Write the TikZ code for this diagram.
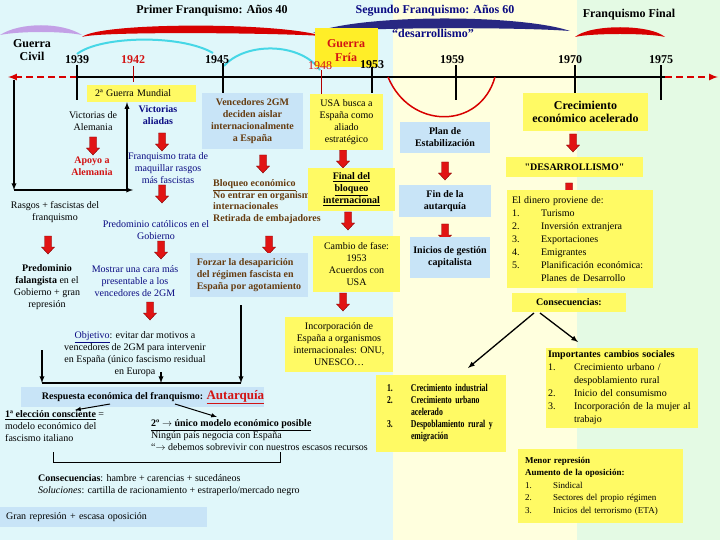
\documentclass[tikz,border=0pt]{standalone}
\usepackage{fontspec}
\setmainfont{Liberation Serif}
\newfontfamily\condserif[FakeStretch=0.74]{Liberation Serif}
\usepackage{tikz}

\definecolor{bgcyan}{RGB}{224,247,250}
\definecolor{bgyellow}{RGB}{255,255,222}
\definecolor{bggreen}{RGB}{228,250,228}
\definecolor{boxyellow}{RGB}{255,250,100}
\definecolor{boxblue}{RGB}{200,228,247}
\definecolor{fryellow}{RGB}{255,238,40}
\definecolor{brownT}{RGB}{102,60,16}
\definecolor{navyT}{RGB}{10,10,130}
\definecolor{redT}{RGB}{210,20,20}
\definecolor{arrowred}{RGB}{225,20,20}
\definecolor{lilac}{RGB}{195,160,230}
\definecolor{arcred}{RGB}{215,0,0}
\definecolor{arcblue}{RGB}{40,40,130}
\definecolor{cyanline}{RGB}{70,215,230}

\tikzset{
  ybox/.style={fill=boxyellow},
  bbox/.style={fill=boxblue},
  title/.style={font=\fontsize{12}{13.5}\selectfont\bfseries},
  bfnode/.style={font=\fontsize{10}{12}\selectfont\bfseries},
  brownbold/.style={bfnode, text=brownT},
  blkarrow/.style={-latex, line width=1.3pt},
  downarrow/.pic={\filldraw[fill=arrowred, draw=red!50!black, line width=0.4pt] (-3.5,-9) -- (3.5,-9) -- (3.5,2) -- (6.5,2) -- (0,9) -- (-6.5,2) -- (-3.5,2) -- cycle;}
}

\begin{document}
\begin{tikzpicture}[x=1pt, y=-1pt, every node/.style={font=\fontsize{10}{12}\selectfont, inner sep=0pt}]
\useasboundingbox (0,0) rectangle (720,540);
\fill[bgcyan] (0,0) rectangle (393,540);
\fill[bgyellow] (393,0) rectangle (577,540);
\fill[bggreen] (577,0) rectangle (720,540);

\fill[lilac] (0,35) .. controls (20,22) and (62,22) .. (82,35) .. controls (62,31) and (20,31) .. cycle;
\fill[arcred] (82,37) .. controls (100,22) and (280,22) .. (322,36) .. controls (280,33) and (100,31) .. cycle;
\fill[arcblue] (313,33) .. controls (360,14) and (520,14) .. (570,31) .. controls (520,27) and (360,27) .. cycle;
\fill[arcred] (575,37) .. controls (590,24) and (650,24) .. (665,37) .. controls (650,33) and (590,33) .. cycle;
\draw[cyanline, line width=2pt] (77,54) .. controls (100,36) and (180,34) .. (213,53);
\draw[cyanline, line width=2pt] (224,66) .. controls (245,42) and (300,42) .. (320,70);

\node[title] (tPrimer) at (212,11) {Primer Franquismo: Años 40};
\node[title, text=navyT] (tSegundo) at (435,11) {Segundo Franquismo: Años 60};
\node[title] (tFinal) at (629,15) {Franquismo Final};
\node[title, text=navyT] (tDesarr) at (433,33) {“desarrollismo”};
\node[title, align=center] (tCivil) at (32,50) {Guerra\\Civil};
\node[fill=fryellow, minimum width=63pt, minimum height=39pt] (friaBox) at (346,47.5) {};
\node[title, text=redT, align=center] (fria) at (346,50.5) {Guerra\\Fría};

% linea del tiempo
\coordinate (t39) at (77,77);
\coordinate (t75) at (665,77);
\coordinate (tL) at (8,77);
\coordinate (tR) at (718,77);
\draw[line width=2.5pt] (t39) -- (t75);
\draw[arcred, line width=2pt, dash pattern=on 7pt off 4pt, -latex] (t39) -- (tL);
\draw[arcred, line width=2pt, dash pattern=on 7pt off 4pt, -latex] (t75) -- (tR);
\foreach \x/\ya/\yb in {77/65/100, 223/63/93, 372/67/93, 456/65/100, 575/65/93, 661/65/100}
  \draw[line width=2.5pt] (\x,\ya) -- (\x,\yb);
\draw[red!70!black, line width=0.8pt] (133,66) -- (133,82);
\draw[red!70!black, line width=0.8pt] (321,70) -- (321,95);
\foreach \x/\y/\yr in {77/60/1939, 217/60/1945, 372/65/1953, 452/60/1959, 570/60/1970, 661/60/1975}
  \node[title] (y\yr) at (\x,\y) {\yr};
\node[title, text=redT] (y1942) at (133,60) {1942};
\node[font=\fontsize{12}{13}\selectfont, text=redT] (y1948) at (320,66) {1948};
\draw[arcred, line width=1.5pt] (388,77) .. controls (410,130) and (480,130) .. (495,77);

\foreach \Point in {(93,146),(162,142),(162,194),(48,245),(161,250),(150,311),(263,164),(269,245),(343,159),(348,221),(343,302),(445,171),(445,233),(573,143),(569,192)}
  \pic at \Point {downarrow};

% primer franquismo
\node[ybox, minimum width=109pt, minimum height=17pt, text width=93pt, align=left] (gm2) at (141.5,93.5) {2ª Guerra Mundial};
\node[align=center] (vicAle) at (93,121) {Victorias de\\Alemania};
\node[bfnode, text=redT, align=center] (apoyo) at (92,166) {Apoyo a\\Alemania};
\node[bfnode, text=navyT, align=center] (vicAli) at (158,115.5) {Victorias\\aliadas};
\node[text=navyT, align=center] (maquillar) at (168,168) {Franquismo trata de\\maquillar rasgos\\más fascistas};
\node[align=center] (rasgos) at (55,212.5) {Rasgos + fascistas del\\franquismo};
\node[text=navyT, align=center] (catolicos) at (156,230) {Predominio católicos en el\\Gobierno};
\node[align=center] (falang) at (47,287) {\textbf{Predominio}\\\textbf{falangista} en el\\Gobierno + gran\\represión};
\node[text=navyT, align=center] (mostrar) at (135,281) {Mostrar una cara más\\presentable a los\\vencedores de 2GM};
\node[align=center] (objetivo) at (135,354) {\textcolor{navyT}{\underline{Objetivo}}: evitar dar motivos a\\vencedores de 2GM para intervenir\\en España (único fascismo residual\\en Europa};
\coordinate (cA) at (14,80);
\coordinate (cB) at (14,190);
\coordinate (cC) at (133,190);
\coordinate (cD) at (127,190);
\draw[blkarrow] (cA) -- (cB);
\draw[blkarrow] (cB) -- (cC);
\draw[blkarrow] (cD) -- (gm2.south -| cD);

\node[bbox, brownbold, minimum width=101pt, minimum height=56pt, align=center] (venced) at (252.5,121.5) {Vencedores 2GM\\deciden aislar\\internacionalmente\\a España};
\node[brownbold, anchor=west, align=left, font=\fontsize{10}{11.7}\selectfont\bfseries] (bloqueo) at (213,201.5) {\underline{Bloqueo económico}\\No entrar en organism\\internacionales\\Retirada de embajadores};
\node[bbox, brownbold, minimum width=118pt, minimum height=44pt, align=left] (forzar) at (249,275) {Forzar la desaparición\\del régimen fascista en\\España por agotamiento};

\coordinate (sA) at (42,350);
\coordinate (sB) at (161,372);
\coordinate (sC) at (241,305);
\coordinate (jA) at (42,383);
\coordinate (jB) at (161,383);
\coordinate (jC) at (241,383);
\draw[line width=1.3pt] (jA) -- (jC);
\foreach \s/\j in {sA/jA, sB/jB, sC/jC}
  \draw[blkarrow] (\s) -- (\j);

\node[bbox, minimum width=243pt, minimum height=20pt] (respBox) at (142,397) {};
\node[bfnode] (resp) at (153,397) {Respuesta económica del franquismo: {\fontsize{13}{14}\selectfont\textcolor{redT}{\underline{Autarquía}}}};
\node[anchor=west, align=left] (eleccion) at (5,426) {\textbf{\underline{1ª elección consciente}} =\\modelo económico del\\fascismo italiano};
\node[anchor=west, align=left] (modelo) at (151,435) {\textbf{\underline{2º $\rightarrow$ único modelo económico posible}}\\Ningún país negocia con España\\“$\rightarrow$ debemos sobrevivir con nuestros escasos recursos};
\coordinate (rA) at (110,404);
\coordinate (rB) at (75,410);
\coordinate (rC) at (175,404);
\coordinate (rD) at (217,417);
\draw[-latex, line width=1pt] (rA) -- (rB);
\draw[-latex, line width=1pt] (rC) -- (rD);
\draw[line width=0.8pt] (53,452) -- (53,462) -- (280,462) -- (280,452);
\node[anchor=west, align=left] (consec) at (38,485) {\textbf{Consecuencias}: hambre + carencias + sucedáneos\\\textit{Soluciones}: cartilla de racionamiento + estraperlo/mercado negro};
\node[bbox, anchor=west, minimum width=207pt, minimum height=20pt, text width=195pt, align=left] (gran) at (0,517) {Gran represión + escasa oposición};

% guerra fria
\node[ybox, minimum width=73pt, minimum height=56pt, align=center] (usa) at (346.5,122) {USA busca a\\España como\\aliado\\estratégico};
\node[ybox, bfnode, minimum width=87pt, minimum height=43pt, align=center] (finalB) at (351.5,189.5) {\underline{Final del}\\\underline{bloqueo}\\\underline{internacional}};
\node[ybox, minimum width=87pt, minimum height=56pt, align=center] (cambio) at (356.5,264) {Cambio de fase:\\1953\\Acuerdos con\\USA};
\node[ybox, minimum width=108pt, minimum height=55pt, align=center] (incorp) at (339,344) {Incorporación de\\España a organismos\\internacionales: ONU,\\UNESCO…};

% segundo franquismo
\node[bbox, bfnode, minimum width=90pt, minimum height=31pt, align=center] (plan) at (445,137.5) {Plan de\\Estabilización};
\node[bbox, bfnode, minimum width=92pt, minimum height=32pt, align=center] (finAut) at (445,201) {Fin de la\\autarquía};
\node[bbox, bfnode, minimum width=80pt, minimum height=41pt, align=center] (inicios) at (450,257.5) {Inicios de gestión\\capitalista};
\node[ybox, title, minimum width=125pt, minimum height=38pt, align=center] (crec) at (585.5,112) {Crecimiento\\económico acelerado};
\node[ybox, bfnode, minimum width=137pt, minimum height=20pt] (desarr) at (574.5,167) {\textquotedbl DESARROLLISMO\textquotedbl};
\node[ybox, font=\fontsize{10}{13}\selectfont, minimum width=146pt, minimum height=98pt, text width=136pt, align=left] (dinero) at (580,239) {El dinero proviene de:\\\makebox[29pt][l]{1.}Turismo\\\makebox[29pt][l]{2.}Inversión extranjera\\\makebox[29pt][l]{3.}Exportaciones\\\makebox[29pt][l]{4.}Emigrantes\\\makebox[29pt][l]{5.}Planificación económica:\\\hspace*{29pt}Planes de Desarrollo};
\node[ybox, bfnode, minimum width=114pt, minimum height=19pt] (consR) at (569,302.5) {Consecuencias:};
\node[ybox, font=\fontsize{10.5}{12}\condserif\bfseries, minimum width=130pt, minimum height=77pt, text width=108pt, align=left] (indust) at (441,413.5) {\makebox[24pt][l]{1.}Crecimiento industrial\\\makebox[24pt][l]{2.}Crecimiento urbano\\\hspace*{24pt}acelerado\\\makebox[24pt][l]{3.}Despoblamiento rural y\\\hspace*{24pt}emigración};
\node[ybox, font=\fontsize{10}{13}\selectfont, minimum width=152pt, minimum height=80pt, text width=148pt, align=left] (social) at (622,388) {\textbf{Importantes cambios sociales}\\\makebox[26pt][l]{1.}Crecimiento urbano /\\\hspace*{26pt}despoblamiento rural\\\makebox[26pt][l]{2.}Inicio del consumismo\\\makebox[26pt][l]{3.}\mbox{Incorporación de la mujer al}\\\hspace*{26pt}trabajo};
\coordinate (kA) at (534,313);
\coordinate (kB) at (468,368);
\coordinate (kC) at (540,313);
\coordinate (kD) at (578,342);
\draw[blkarrow] (kA) -- (kB);
\draw[blkarrow] (kC) -- (kD);

% franquismo final
\node[ybox, font=\fontsize{9}{12.5}\selectfont, minimum width=165pt, minimum height=74pt, text width=151pt, align=left] (menor) at (600.5,486) {\textbf{Menor represión}\\\textbf{Aumento de la oposición:}\\\makebox[28pt][l]{1.}Sindical\\\makebox[28pt][l]{2.}Sectores del propio régimen\\\makebox[28pt][l]{3.}Inicios del terrorismo (ETA)};
\end{tikzpicture}
\end{document}
